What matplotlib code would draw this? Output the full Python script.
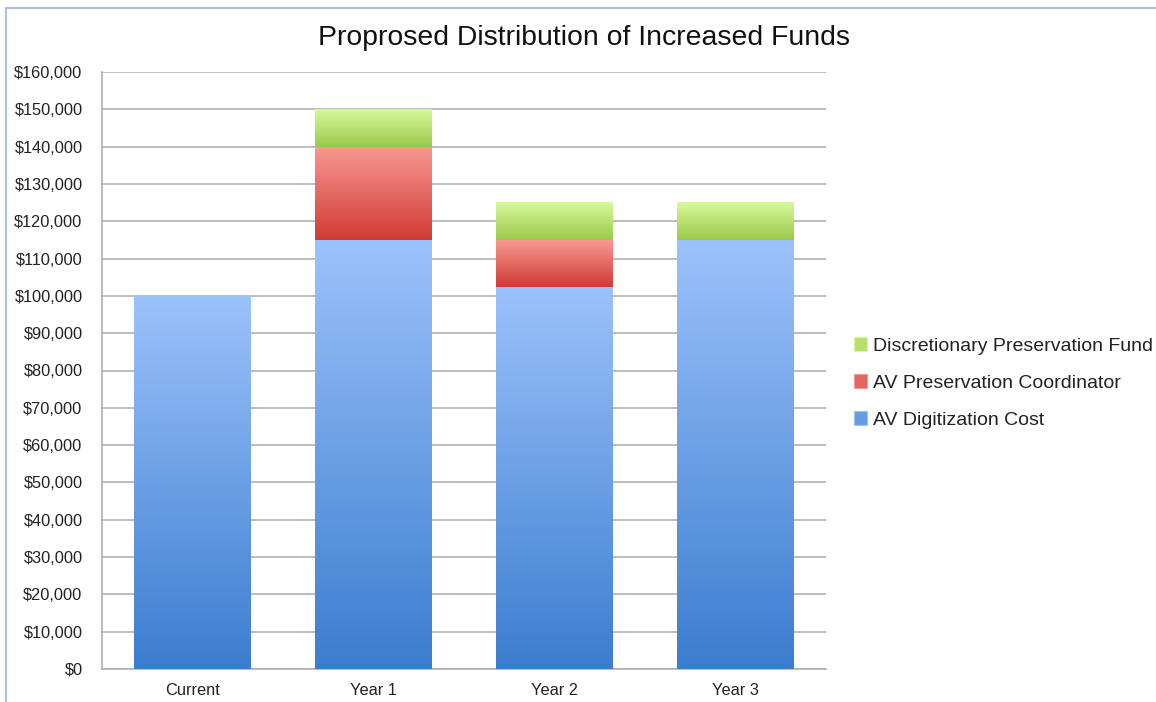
import matplotlib.pyplot as plt
import matplotlib.patches as mpatches
from matplotlib.colors import LinearSegmentedColormap
from matplotlib.ticker import FuncFormatter, MultipleLocator
import numpy as np

categories = ['Current', 'Year 1', 'Year 2', 'Year 3']
digitization = [100000, 115000, 102500, 115000]
coordinator = [0, 25000, 12500, 0]
discretionary = [0, 10000, 10000, 10000]

series = [
    ('AV Digitization Cost', digitization, '#3c7dcf', '#9cc2fb'),
    ('AV Preservation Coordinator', coordinator, '#cf3b34', '#fa9893'),
    ('Discretionary Preservation Fund', discretionary, '#9ac94a', '#d7f99a'),
]

plt.rcParams['font.family'] = ['Liberation Sans', 'DejaVu Sans']

fig = plt.figure(figsize=(11.56, 7.02), dpi=100)
ax = fig.add_axes([102 / 1156, 1 - 669 / 702, 724 / 1156, 597 / 702])

width = 0.645
x = np.arange(len(categories))
bottom = np.zeros(len(categories))
grad = np.linspace(0, 1, 256).reshape(-1, 1)
handles = []
for name, vals, dark, light in series:
    cmap = LinearSegmentedColormap.from_list(name, [dark, light])
    vals = np.array(vals, dtype=float)
    for i in range(len(categories)):
        if vals[i] <= 0:
            continue
        ax.imshow(grad, cmap=cmap, origin='lower', aspect='auto', zorder=3,
                  extent=(x[i] - width / 2, x[i] + width / 2, bottom[i], bottom[i] + vals[i]),
                  interpolation='bilinear')
    bottom += vals
    handles.append(mpatches.Patch(facecolor=cmap(0.45), edgecolor=light, linewidth=0.8, label=name))

ax.set_xlim(-0.5, len(categories) - 0.5)
ax.set_ylim(0, 160000)
ax.yaxis.set_major_locator(MultipleLocator(10000))
ax.yaxis.set_major_formatter(FuncFormatter(lambda v, p: '${:,.0f}'.format(v)))
ax.set_xticks(x)
ax.set_xticklabels(categories)
ax.grid(axis='y', color='#b0b0b0', linewidth=1.2, zorder=0)
ax.set_axisbelow(True)
for s in ['top', 'right']:
    ax.spines[s].set_visible(False)
ax.spines['left'].set_color('#b0b0b0')
ax.spines['bottom'].set_color('#b0b0b0')
ax.spines['left'].set_linewidth(1.2)
ax.spines['bottom'].set_linewidth(1.2)
ax.tick_params(axis='both', length=0, labelsize=11.8, colors='#222222')
ax.tick_params(axis='y', pad=14)
ax.tick_params(axis='x', pad=10)

fig.suptitle('Proprosed Distribution of Increased Funds', fontsize=20.4,
             x=584 / 1156, y=1 - 38 / 702, va='center', color='#111111')

fig.legend(handles=handles[::-1], loc='center left',
           bbox_to_anchor=(836 / 1156, 1 - 383 / 702), frameon=False,
           fontsize=14, handlelength=0.7, handleheight=0.7, handletextpad=0.28,
           labelspacing=1.0, labelcolor='#222222')

fig.patches.append(mpatches.Rectangle((6 / 1156, -0.1), 1.2, 1 - 8 / 702 + 0.1,
                                      transform=fig.transFigure, fill=False,
                                      edgecolor='#a9c0e0', linewidth=1.5))

fig.savefig('out.png', dpi=100)
